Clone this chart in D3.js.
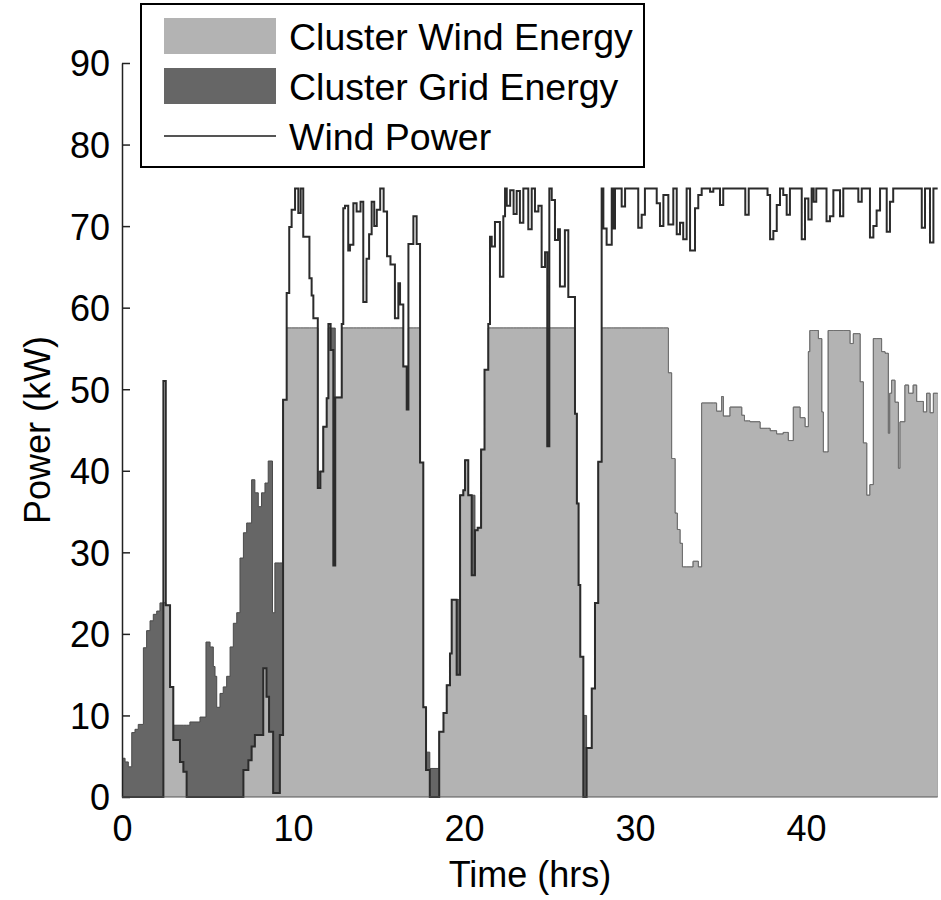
<!DOCTYPE html>
<html>
<head>
<meta charset="utf-8">
<script src="https://cdn.jsdelivr.net/npm/d3@7"></script>
<style>
  html, body { margin: 0; padding: 0; background: #fff; }
  svg text { font-family: "Liberation Sans", Arial, Helvetica, sans-serif; fill: #000; }
</style>
</head>
<body>
<svg id="chart" width="941" height="900"></svg>
<script>
// Wind power output (kW) as step change points: the value holds until the next hour listed.
const windHours = [
  0, 2.42, 2.56, 2.81, 3.0, 3.39, 3.59, 3.78, 7.1, 7.39, 7.58, 7.77, 8.26, 8.45, 8.6, 8.84, 9.23, 9.42,
  9.63, 9.78, 9.92, 10.12, 10.31, 10.45, 10.6, 10.96, 11.09, 11.19, 11.45, 11.6, 11.77, 11.97, 12.07,
  12.2, 12.36, 12.47, 12.85, 12.94, 13.04, 13.23, 13.33, 13.53, 13.72, 13.95, 14.11, 14.3, 14.45, 14.6,
  14.75, 14.9, 15.1, 15.3, 15.5, 15.7, 15.96, 16.16, 16.26, 16.45, 16.65, 16.75, 17.04, 17.23, 17.43,
  17.62, 17.78, 18.0, 18.55, 18.8, 18.99, 19.18, 19.28, 19.57, 19.77, 19.96, 20.06, 20.25, 20.45, 20.64,
  20.8, 21.0, 21.2, 21.42, 21.52, 21.62, 21.81, 22.1, 22.3, 22.4, 22.5, 22.7, 22.9, 23.08, 23.27, 23.47,
  23.76, 23.96, 24.15, 24.35, 24.54, 24.74, 24.87, 24.99, 25.13, 25.32, 25.5, 25.61, 25.9, 26.1, 26.49,
  26.6, 26.7, 26.8, 26.98, 27.17, 27.47, 27.66, 27.85, 28.05, 28.15, 28.34, 28.64, 28.73, 28.83, 29.22,
  29.42, 30.19, 30.39, 30.58, 31.27, 31.46, 31.66, 31.95, 32.24, 32.44, 32.63, 32.82, 33.02, 33.22,
  33.51, 33.7, 33.9, 34.39, 34.58, 34.97, 35.16, 36.45, 36.65, 37.75, 37.9, 38.09, 38.29, 38.48, 38.67,
  38.87, 39.06, 39.75, 39.94, 40.14, 40.33, 40.45, 40.6, 41.2, 41.4, 41.6, 41.99, 42.18, 43.06, 43.26,
  43.74, 43.94, 44.13, 44.33, 44.72, 44.91, 45.1, 46.77, 46.96, 47.25, 47.45
];
const windPower = [
  0, 51, 23.5, 13.5, 7, 4.3, 3.1, 0, 3.3, 4.5, 6.2, 7.6, 15.8, 12.3, 8, 0.5, 7.6, 48.7,
  61.8, 69.9, 72, 74.6, 71.6, 74.6, 68.7, 63.6, 61.5, 58.7, 37.9, 39.9, 45.4, 48.9, 58,
  54.8, 28.4, 49, 58, 72.2, 72.5, 67, 67.7, 72.8, 71.8, 73, 60.7, 66, 69, 73,
  70, 72, 74.6, 71.8, 66.3, 65.3, 58.7, 63, 60.4, 52.8, 47.5, 67.8, 71.2, 67.8, 41,
  11, 3.3, 0, 8, 10.3, 13.7, 17.6, 24.2, 15, 37, 37.6, 41.3, 37, 27.2, 32.7,
  33, 42.6, 52.4, 58, 68.7, 67.5, 70.5, 63.8, 71.2, 74.6, 72.5, 74.4, 71.5, 74.3, 70.4, 74.6,
  69.6, 74.6, 71.8, 72.5, 65, 66.8, 43, 74.6, 73.2, 68.3, 69.6, 62.6, 69.5, 61.3, 47,
  36, 26, 17.2, 0, 6, 13.3, 23.8, 41.1, 74.6, 69.7, 67.7, 74.6, 69.7, 74.6, 72.4,
  74.6, 69.8, 71.4, 74.6, 72.8, 70, 73.8, 70.2, 74.6, 69, 70.4, 68.4, 74.6, 67,
  72.2, 73.8, 74.6, 74.2, 74.6, 72.6, 74.6, 71.4, 74.6, 73.8, 68.4, 69.4, 72.6, 74.6, 73.8,
  71.4, 74.6, 68.4, 73.4, 70.8, 74.6, 73, 74.6, 70.6, 71.2, 74.4, 71.2, 74.6, 73, 74.6,
  68.6, 70, 71.9, 74.6, 69.3, 73, 74.6, 69.8, 74.6, 68, 74.6
];

// Total power drawn by the cluster (kW), step change points.
const clusterHours = [
  0, 0.18, 0.37, 0.57, 0.76, 0.95, 1.25, 1.44, 1.64, 1.83, 2.03, 2.22, 2.56, 2.81, 3.0, 3.97, 4.56,
  4.91, 5.15, 5.34, 5.44, 5.54, 5.73, 5.92, 6.12, 6.32, 6.51, 6.71, 6.9, 7.1, 7.29, 7.58, 7.77, 7.97,
  8.16, 8.36, 8.55, 8.8, 8.94, 9.42, 9.63, 11.45, 11.77, 11.97, 12.07, 12.47, 12.85, 16.45, 16.75,
  17.43, 17.62, 17.78, 18.0, 18.55, 18.8, 18.99, 19.18, 19.28, 19.77, 19.96, 20.06, 20.25, 20.64,
  20.8, 21.0, 21.2, 21.42, 26.49, 26.6, 26.7, 26.8, 26.98, 27.17, 27.47, 27.66, 27.85, 28.05, 31.95,
  32.14, 32.34, 32.47, 32.63, 32.77, 33.4, 33.7, 33.9, 34.77, 35.07, 35.16, 35.56, 36.24, 36.4, 36.73,
  37.31, 37.9, 38.28, 38.67, 38.96, 39.26, 39.65, 39.94, 40.14, 40.23, 40.72, 40.92, 41.01, 41.3,
  42.57, 42.77, 43.16, 43.35, 43.55, 43.74, 43.94, 44.42, 44.62, 44.81, 44.9, 45.01, 45.2, 45.4,
  45.5, 45.79, 46.0, 46.27, 46.47, 46.86, 47.06, 47.25, 47.45
];
const clusterPower = [
  4.75, 4.3, 3.7, 7.9, 8.3, 8.9, 18.3, 20.4, 21.6, 22.4, 22.8, 23.8, 23.5, 13.5, 8.8, 9.2, 9.8,
  19, 18.4, 16, 14.8, 11, 12.7, 13.5, 14.8, 18.4, 21.3, 22.6, 29.3, 32.4, 33.6, 38.9, 37.3, 35.6,
  37.3, 38.5, 41.2, 22.6, 28.7, 48.7, 57.5, 39.9, 45.4, 48.9, 57.5, 49, 57.5, 52.8, 57.5,
  41, 11, 5.5, 3.5, 8, 10.3, 13.7, 17.6, 24.2, 37, 37.6, 41.3, 37, 32.7,
  33, 42.6, 52.4, 57.5, 47, 36, 26, 17.2, 10, 6, 13.3, 23.8, 41.1, 57.5, 52,
  41.5, 34.8, 32.8, 31.1, 28.2, 28.9, 28.2, 48.3, 47.3, 49.1, 46.7, 47.8, 46.8, 46.1, 46,
  45.2, 44.9, 44.5, 44.7, 43.7, 47.8, 46.5, 45.4, 54.6, 57.2, 56.2, 47.2, 42.3, 57.2,
  55.6, 56.8, 50.9, 43.4, 37, 38.3, 56.2, 54.6, 54.4, 44.6, 49.5, 51.1, 48.4, 40.3,
  46, 50.5, 49.5, 50.5, 48.5, 47.2, 49.5, 47.1, 49.5
];

const endHour = 47.7;
const xTicks = [0, 10, 20, 30, 40];
const yTicks = [0, 10, 20, 30, 40, 50, 60, 70, 80, 90];
const legendLabels = ["Cluster Wind Energy", "Cluster Grid Energy", "Wind Power"];

const colors = { wind: "#b3b3b3", grid: "#666666", line: "#2b2b2b" };

const svg = d3.select("#chart");
const x = d3.scaleLinear().domain([0, 48]).range([122, 942.8]);
const y = d3.scaleLinear().domain([0, 90]).range([797, 63]);

// Step lookup for a series given as change points
function valueAt(hours, values, t) {
  const i = d3.bisectRight(hours, t) - 1;
  return values[Math.max(0, i)];
}

// Combine both series on the union of their change points.
const times = Array.from(new Set([...windHours, ...clusterHours, endHour])).sort((a, b) => a - b);
const rows = times.map(t => {
  const wind = valueAt(windHours, windPower, t);
  const total = valueAt(clusterHours, clusterPower, t);
  return { t, wind, total, used: Math.min(wind, total) };
});

const plot = svg.append("g");

// Grid energy sits on top of the wind energy: draw the total in dark, then the wind share over it.
const totalArea = d3.area().curve(d3.curveStepAfter)
  .x(d => x(d.t)).y0(y(0)).y1(d => y(d.total));
const usedArea = d3.area().curve(d3.curveStepAfter)
  .x(d => x(d.t)).y0(y(0)).y1(d => y(d.used));

plot.append("path").datum(rows).attr("d", totalArea).attr("fill", colors.grid);
plot.append("path").datum(rows)
  .attr("d", d3.line().curve(d3.curveStepAfter).x(d => x(d.t)).y(d => y(d.total)))
  .attr("fill", "none").attr("stroke", "#4a4a4a").attr("stroke-width", 1);
plot.append("path").datum(rows).attr("d", usedArea).attr("fill", colors.wind);
plot.append("path").datum(rows)
  .attr("d", d3.line().curve(d3.curveStepAfter).x(d => x(d.t)).y(d => y(d.used)))
  .attr("fill", "none").attr("stroke", "#6f6f6f").attr("stroke-width", 1);

// Wind power line
plot.append("path").datum(rows)
  .attr("d", d3.line().curve(d3.curveStepAfter).x(d => x(d.t)).y(d => y(d.wind)))
  .attr("fill", "none").attr("stroke", colors.line).attr("stroke-width", 2)
  .attr("stroke-linejoin", "miter");

// Axes
const yAxis = svg.append("g").attr("transform", `translate(${x(0)},0)`)
  .call(d3.axisLeft(y).tickValues(yTicks).tickSizeInner(-8).tickSizeOuter(0).tickPadding(12));
yAxis.select(".domain").attr("stroke", "#222").attr("stroke-width", 1.5);
yAxis.selectAll(".tick line").attr("stroke", "#222").attr("stroke-width", 1.5);
yAxis.selectAll(".tick text").attr("font-size", 36).attr("dy", "0.36em")
  .style("font-family", "'Liberation Sans', Arial, sans-serif");

const xAxis = svg.append("g").attr("transform", `translate(0,${y(0)})`)
  .call(d3.axisBottom(x).tickValues(xTicks).tickSize(0).tickPadding(18));
xAxis.select(".domain").attr("stroke", "#555").attr("stroke-width", 1)
  .attr("d", `M${x(0)},0H${x(endHour)}`);
xAxis.selectAll(".tick text").attr("font-size", 36)
  .style("font-family", "'Liberation Sans', Arial, sans-serif");

svg.append("text").attr("x", 530).attr("y", 887).attr("text-anchor", "middle")
  .attr("font-size", 36).text("Time (hrs)");
svg.append("text").attr("transform", "translate(50,430) rotate(-90)")
  .attr("text-anchor", "middle").attr("font-size", 36).text("Power (kW)");

// Legend
const legend = svg.append("g");
legend.append("rect").attr("x", 141).attr("y", 4).attr("width", 503).attr("height", 163)
  .attr("fill", "#fff").attr("stroke", "#000").attr("stroke-width", 2);
const rowsY = [36, 86, 136];
legend.append("rect").attr("x", 164).attr("y", rowsY[0] - 18).attr("width", 112).attr("height", 36)
  .attr("fill", colors.wind);
legend.append("rect").attr("x", 164).attr("y", rowsY[1] - 18).attr("width", 112).attr("height", 36)
  .attr("fill", colors.grid);
legend.append("line").attr("x1", 164).attr("x2", 276).attr("y1", rowsY[2]).attr("y2", rowsY[2])
  .attr("stroke", "#555").attr("stroke-width", 2);
legend.selectAll("text.lbl").data(legendLabels).join("text").attr("class", "lbl")
  .attr("x", 289).attr("y", (d, i) => rowsY[i]).attr("dy", "0.36em")
  .attr("font-size", 37.5).text(d => d);
</script>
</body>
</html>
